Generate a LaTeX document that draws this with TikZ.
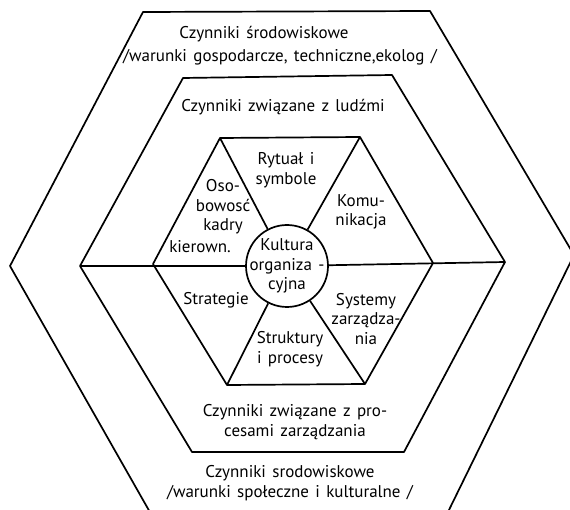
\documentclass[tikz,border=0pt]{standalone}
\usepackage{fontspec}
\newfontfamily\pismo[WordSpace=1.4]{PT Sans}
\usetikzlibrary{shapes,positioning}

\begin{document}
\begin{tikzpicture}[x=1pt,y=-1pt,line width=1.7pt,line join=round,
  txt/.style={font=\pismo\fontsize{17}{19.5}\selectfont,align=center,inner sep=0pt}]
  \clip (0,0) rectangle (570,510);
  % outer hexagon
  \draw (143,12) -- (430,11) -- (574,255) -- (447,514) -- (151,514) -- (10,266) -- cycle;
  % middle hexagon
  \draw (183,78) -- (392,75) -- (505,262) coordinate (mR) -- (404,452) -- (192,452) -- (80,266) coordinate (mL) -- cycle;
  % inner hexagon
  \draw (220,138) coordinate (h1) -- (360,137) coordinate (h2) -- (433,263) -- (365,384) coordinate (h4)
    -- (227,385) coordinate (h5) -- (153,264) -- cycle;
  \node[draw,circle,minimum size=82pt,inner sep=0pt] (kultura) at (287,266) {};
  \node[txt] (kulturaTxt) at (kultura) {Kultura\\organiza -\\cyjna};
  \draw (h1) -- (kultura);
  \draw (h2) -- (kultura);
  \draw (h4) -- (kultura);
  \draw (h5) -- (kultura);
  \draw (mL) -- (kultura);
  \draw (mR) -- (kultura);

  \node[txt] (srodGora) at (264,34) {Czynniki środowiskowe};
  \node[txt] (warunkiGora) at (280,57) {/warunki gospodarcze, techniczne,ekolog /};
  \node[txt] (ludzie) at (283,107) {Czynniki związane z ludźmi};
  \node[txt] (rytualy) at (286,170) {Rytuał i\\symbole};
  \node[txt] (osobowosc) at (223,207) {Oso-\\bowosć\\kadry};
  \node[txt] (kierown) at (200,247) {kierown.};
  \node[txt] (komunikacja) at (361,212) {Komu-\\nikacja};
  \node[txt] (strategie) at (216,300) {Strategie};
  \node[txt] (systemy) at (366,319) {Systemy\\zarządza-\\nia};
  \node[txt] (struktury) at (290,349) {Struktury\\i procesy};
  \node[txt] (procesy) at (295,422) {Czynniki związane z pro-\\cesami zarządzania};
  \node[txt] (srodDol) at (290,483) {Czynniki srodowiskowe\\/warunki społeczne i kulturalne /};
\end{tikzpicture}
\end{document}
